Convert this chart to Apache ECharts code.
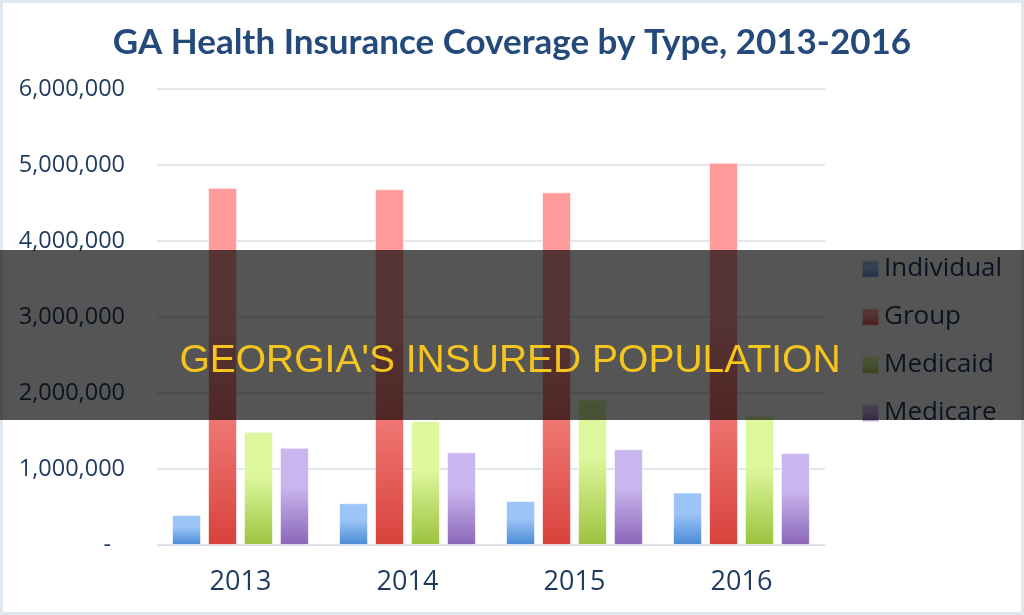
<!DOCTYPE html>
<html><head><meta charset="utf-8">
<script src="https://cdn.jsdelivr.net/npm/echarts@6/dist/echarts.min.js"></script>
<style>html,body{margin:0;padding:0;background:#fff}#c{width:1024px;height:615px}</style>
</head><body><div id="c"></div>
<script>
const categories = ['2013', '2014', '2015', '2016'];
const individual = [395000, 550000, 580000, 690000];
const group = [4700000, 4680000, 4640000, 5030000];
const medicaid = [1490000, 1630000, 1910000, 1700000];
const medicare = [1280000, 1220000, 1260000, 1210000];
const yTicks = [0, 1000000, 2000000, 3000000, 4000000, 5000000, 6000000];

const chart = echarts.init(document.getElementById('c'));
function grad(top, bottom) {
  return new echarts.graphic.LinearGradient(0, 0, 0, 1, [
    {offset: 0, color: top}, {offset: 0.4, color: top}, {offset: 1, color: bottom}
  ]);
}
const navy = '#1f3a5f';
function mk(name, data, legendColor, top, bottom) {
  return {
    name, type: 'bar', data, barWidth: 29, barGap: '24%',
    color: legendColor,
    itemStyle: {color: grad(top, bottom), borderColor: 'rgba(255,255,255,0.6)', borderWidth: 1},
    emphasis: {disabled: true}
  };
}
chart.setOption({
  animation: false,
  backgroundColor: '#fff',
  title: {
    text: 'GA Health Insurance Coverage by Type, 2013-2016',
    left: 'center', top: 20,
    textStyle: {fontFamily: 'Lato', fontWeight: 'bold', fontSize: 35, color: '#244a7c'}
  },
  legend: {
    orient: 'vertical', left: 856, top: 251, itemWidth: 17, itemHeight: 17, itemGap: 22,
    icon: 'rect',
    textStyle: {fontFamily: 'Open Sans', fontSize: 26, color: navy},
    data: ['Individual', 'Group', 'Medicaid', 'Medicare']
  },
  grid: {left: 157, right: 199, top: 89, bottom: 70},
  xAxis: {
    type: 'category', data: categories,
    axisLine: {lineStyle: {color: '#d9dde4'}}, axisTick: {show: false},
    axisLabel: {fontFamily: 'Open Sans', fontSize: 27, color: navy, margin: 24}
  },
  yAxis: {
    type: 'value', min: yTicks[0], max: yTicks[yTicks.length - 1], interval: yTicks[1] - yTicks[0],
    axisLine: {show: false}, axisTick: {show: false},
    splitLine: {lineStyle: {color: '#d9dde4', width: 1.5}},
    axisLabel: {
      fontFamily: 'Open Sans', fontSize: 23.5, color: navy, margin: 32,
      formatter: v => v === 0 ? '{d|-}' : v.toLocaleString('en-US'),
      rich: {d: {fontFamily: 'Open Sans', fontSize: 23.5, color: navy, padding: [0, 14, 0, 0]}}
    }
  },
  series: [
    mk('Individual', individual, '#4f81bd', '#9cc4f7', '#4a8ad6'),
    mk('Group', group, '#c0504d', '#ff9b9a', '#d8423c'),
    mk('Medicaid', medicaid, '#9bbb59', '#dcf79c', '#9cc23e'),
    mk('Medicare', medicare, '#8064a2', '#cab6ee', '#8a66b8')
  ],
  graphic: [
    {type: 'rect', z: 200, shape: {x: 1.5, y: 1.5, width: 1021, height: 612},
     style: {fill: 'none', stroke: '#dfe7f1', lineWidth: 3}},
    {type: 'rect', z: 300, shape: {x: 0, y: 250, width: 1024, height: 170},
     style: {fill: 'rgba(0,0,0,0.665)'}},
    {type: 'text', z: 301, x: 510, y: 361,
     style: {text: "GEORGIA'S INSURED POPULATION", fill: '#f5c51e',
       font: '39px "Liberation Sans"', textAlign: 'center', textVerticalAlign: 'middle'}}
  ]
});
</script></body></html>
